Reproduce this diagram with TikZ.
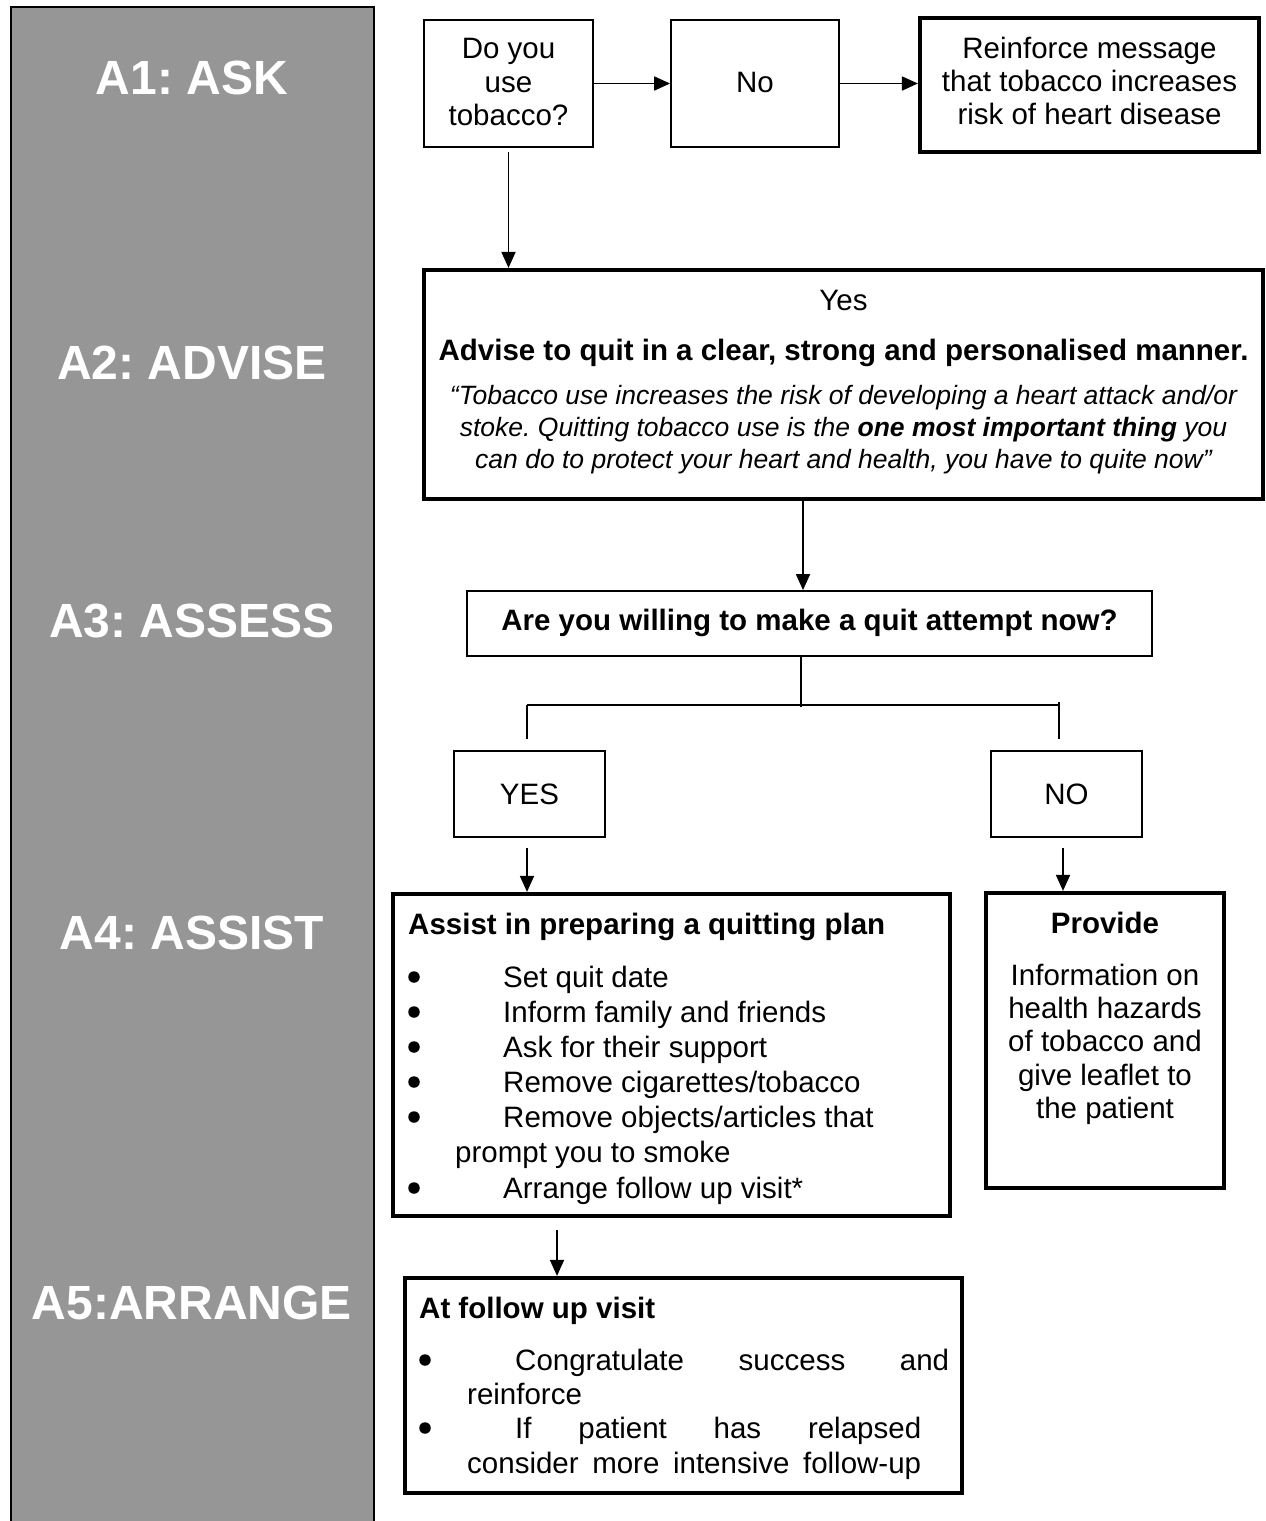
\documentclass[tikz,border=0pt]{standalone}
\usepackage{fontspec}
\setmainfont{Liberation Sans}
\usetikzlibrary{arrows.meta}
\definecolor{sidegray}{HTML}{969696}
\frenchspacing
\begin{document}
\begin{tikzpicture}[x=1pt,y=-1pt,
  thinbox/.style={draw,line width=1.8pt,inner sep=0pt},
  thickbox/.style={draw,line width=4.2pt,inner sep=0pt},
  body/.style={inner sep=0pt,font=\fontsize{29.5}{33.5}\selectfont},
  bodyc/.style={body,anchor=base},
  bodyl/.style={body,anchor=base west},
  dot/.style={circle,fill=black,inner sep=0pt,minimum size=11.5pt},
  quote/.style={inner sep=0pt,anchor=base,font=\fontsize{26.5}{32}\selectfont\itshape},
  step label/.style={inner sep=0pt,anchor=base,text=white,font=\fontsize{48}{52}\selectfont\bfseries},
  link/.style={line width=1.8pt},
  arr/.style={line width=1.8pt,-{Triangle[length=16pt,width=14pt]}}
]
\useasboundingbox (0,0) rectangle (1266,1521);

% left band with the five steps
\node[draw,fill=sidegray,line width=2pt,inner sep=0pt,anchor=north west,
      minimum width=363,minimum height=1530] (band) at (10,6) {};
\node[step label] (l1) at (192,94)   {A1: ASK};
\node[step label] (l2) at (192,379)  {A2: ADVISE};
\node[step label] (l3) at (192,637)  {A3: ASSESS};
\node[step label] (l4) at (192,949)  {A4: ASSIST};
\node[step label] (l5) at (192,1319) {A5:ARRANGE};

% A1: ask
\node[thinbox,minimum width=169,minimum height=127] (ask) at (508.5,83.5) {};
\node[bodyc] (ask1) at (508.5,58)  {Do you};
\node[bodyc] (ask2) at (508.5,92)  {use};
\node[bodyc] (ask3) at (508.5,125) {tobacco?};

\node[thinbox,minimum width=168,minimum height=127] (no) at (755,83.5) {};
\node[bodyc] (notxt) at (755,92) {No};

\node[thickbox,minimum width=339,minimum height=134] (reinf) at (1089.5,85) {};
\node[bodyc] (r1) at (1089.5,58)  {Reinforce message};
\node[bodyc] (r2) at (1089.5,91)  {that tobacco increases};
\node[bodyc] (r3) at (1089.5,124) {risk of heart disease};

% A2: advise
\node[thickbox,minimum width=839,minimum height=229] (advise) at (843.5,384.5) {};
\node[bodyc] (yes) at (843.5,310) {Yes};
\node[bodyc,font=\fontsize{29.5}{33.5}\selectfont\bfseries] (adv) at (843.5,360)
  {Advise to quit in a clear, strong and personalised manner.};
\node[quote] (q1) at (843.5,404) {“Tobacco use increases the risk of developing a heart attack and/or};
\node[quote] (q2) at (843.5,436) {stoke. Quitting tobacco use is the \textbf{one most important thing} you};
\node[quote] (q3) at (843.5,468) {can do to protect your heart and health, you have to quite now”};

% A3: assess
\node[thinbox,minimum width=685,minimum height=65] (assess) at (809.5,623.5) {};
\node[bodyc,font=\fontsize{29.5}{33.5}\selectfont\bfseries] (asstxt) at (809.5,630)
  {Are you willing to make a quit attempt now?};

\node[thinbox,minimum width=151,minimum height=86] (yesb) at (529.5,794) {};
\node[bodyc] (yestxt) at (529.5,804) {YES};
\node[thinbox,minimum width=151,minimum height=86] (nob) at (1066.5,794) {};
\node[bodyc] (notxt2) at (1066.5,804) {NO};

% A4: assist
\node[thickbox,minimum width=557,minimum height=322] (assist) at (671.5,1055) {};
\node[bodyl,font=\fontsize{29.5}{33.5}\selectfont\bfseries] (as0) at (408,934) {Assist in preparing a quitting plan};
\node[dot] (b1) at (414,977)  {};
\node[bodyl] (as1) at (503,987)  {Set quit date};
\node[dot] (b2) at (414,1012) {};
\node[bodyl] (as2) at (503,1022) {Inform family and friends};
\node[dot] (b3) at (414,1047) {};
\node[bodyl] (as3) at (503,1057) {Ask for their support};
\node[dot] (b4) at (414,1082) {};
\node[bodyl] (as4) at (503,1092) {Remove cigarettes/tobacco};
\node[dot] (b5) at (414,1117) {};
\node[bodyl] (as5) at (503,1127) {Remove objects/articles that};
\node[bodyl] (as6) at (455,1162) {prompt you to smoke};
\node[dot] (b6) at (414,1188) {};
\node[bodyl] (as7) at (503,1198) {Arrange follow up visit*};

\node[thickbox,minimum width=238,minimum height=295] (provide) at (1105,1040.5) {};
\node[bodyc,font=\fontsize{29.5}{33.5}\selectfont\bfseries] (p0) at (1105,933) {Provide};
\node[bodyc] (p1) at (1105,985)  {Information on};
\node[bodyc] (p2) at (1105,1018) {health hazards};
\node[bodyc] (p3) at (1105,1051) {of tobacco and};
\node[bodyc] (p4) at (1105,1085) {give leaflet to};
\node[bodyc] (p5) at (1105,1118) {the patient};

% A5: arrange
\node[thickbox,minimum width=557,minimum height=215] (follow) at (683.5,1385.5) {};
\node[bodyl,font=\fontsize{29.5}{33.5}\selectfont\bfseries] (f0) at (419,1318) {At follow up visit};
\node[dot] (fb1) at (425,1360) {};
\node[bodyl] (f1) at (515,1370) {\makebox[434pt][s]{Congratulate success and}};
\node[bodyl] (f2) at (467,1404) {reinforce};
\node[dot] (fb2) at (425,1428) {};
\node[bodyl] (f3) at (515,1438) {\makebox[406pt][s]{If patient has relapsed}};
\node[bodyl] (f4) at (467,1473) {\makebox[454pt][s]{consider more intensive follow-up}};

% connectors
\coordinate (downx) at (803,0);
\coordinate (splitx) at (801,0);
\coordinate (yx) at (527,0);
\coordinate (nx) at (1063,0);
\coordinate (nstub) at (1059,0);
\coordinate (fx) at (557,0);

\draw[arr] (ask.east) -- (ask.east -| no.west);
\draw[arr] (no.east) -- (no.east -| reinf.west);
\draw[arr] (ask.south) ++(0,4) -- (ask.south |- advise.north);
\draw[arr] (advise.south -| downx) -- (assess.north -| downx);

\coordinate (split) at (801,705);
\draw[link] (assess.south -| splitx) -- ([yshift=-2]split);
\draw[link] (split -| yx) -- (split -| nstub);
\draw[link] ([yshift=3]split -| nstub) -- ([yshift=-34]split -| nstub);
\draw[link] (split -| yx) -- ([yshift=-34]split -| yx);

\draw[arr] ([yshift=-10]yesb.south -| yx) -- (assist.north -| yx);
\draw[arr] ([yshift=-10]nob.south -| nx) -- (provide.north -| nx);
\draw[arr] ([yshift=-12]assist.south -| fx) -- (follow.north -| fx);
\end{tikzpicture}
\end{document}
